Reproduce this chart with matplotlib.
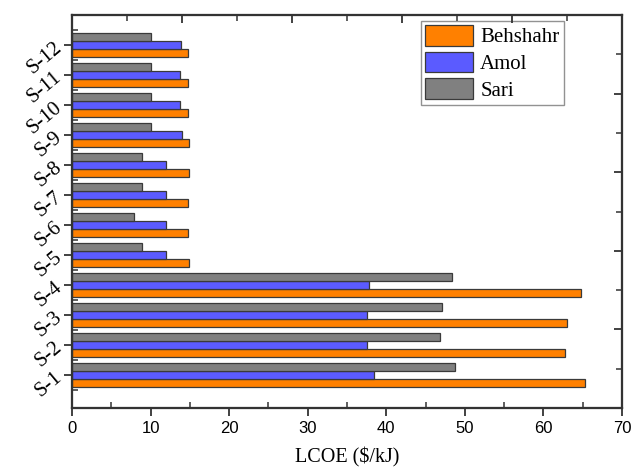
import matplotlib
matplotlib.use("Agg")
import matplotlib.pyplot as plt
import numpy as np
from matplotlib.ticker import MultipleLocator, FixedLocator

categories = ["S-1", "S-2", "S-3", "S-4", "S-5", "S-6", "S-7", "S-8", "S-9", "S-10", "S-11", "S-12"]
behshahr = [65.3, 62.8, 63.0, 64.8, 14.9, 14.8, 14.8, 14.9, 14.9, 14.8, 14.8, 14.8]
amol = [38.4, 37.5, 37.5, 37.8, 11.9, 11.9, 11.9, 11.9, 14.0, 13.8, 13.8, 13.9]
sari = [48.7, 46.9, 47.1, 48.4, 8.9, 7.9, 8.9, 8.9, 10.1, 10.0, 10.0, 10.1]
xticks = [0, 10, 20, 30, 40, 50, 60, 70]

serif = "Liberation Serif"
sans = "Liberation Sans"
plt.rcParams["font.family"] = sans

fig = plt.figure(figsize=(6.32, 4.68), dpi=100)
ax = fig.add_axes([0.114, 0.128, 0.870, 0.840])

y = np.arange(1, len(categories) + 1)
h = 0.27
ec = "#3a3a3a"
ax.barh(y - h, behshahr, height=h, color="#FF8000", edgecolor=ec, linewidth=0.9, label="Behshahr")
ax.barh(y, amol, height=h, color="#5B5BFF", edgecolor=ec, linewidth=0.9, label="Amol")
ax.barh(y + h, sari, height=h, color="#808080", edgecolor=ec, linewidth=0.9, label="Sari")

ax.set_xlim(0, 70)
ax.set_ylim(-0.1, 13)
ax.set_xticks(xticks, [str(t) for t in xticks], fontfamily=sans, fontsize=12)
ax.xaxis.set_minor_locator(MultipleLocator(5))
ax.set_yticks(y)
ax.set_yticklabels(categories, rotation=40, ha="right", va="center",
                   rotation_mode="anchor", fontfamily=serif, fontsize=15)
ax.yaxis.set_minor_locator(FixedLocator(np.arange(0.5, 13.01, 1.0)))

ax.tick_params(axis="both", which="major", direction="out", length=6, width=1.3, color="#333333")
ax.tick_params(axis="both", which="minor", direction="in", length=4, width=1.1, color="#333333")
ax.tick_params(axis="y", which="major", pad=3)

for s in ax.spines.values():
    s.set_linewidth(1.5)
    s.set_color("#333333")

# top and right mirrored axes with their own ticks
axt = ax.twiny()
axt.set_xlim(0, 5)
axt.xaxis.set_major_locator(MultipleLocator(1))
axt.xaxis.set_minor_locator(MultipleLocator(0.5))
axt.tick_params(axis="x", which="major", direction="in", length=6, width=1.3, labeltop=False, color="#333333")
axt.tick_params(axis="x", which="minor", direction="in", length=4, width=1.1, color="#333333")
axr = ax.twinx()
axr.set_ylim(0, 5)
axr.yaxis.set_major_locator(MultipleLocator(1))
axr.yaxis.set_minor_locator(MultipleLocator(0.5))
axr.tick_params(axis="y", which="major", direction="in", length=6, width=1.3, labelright=False, color="#333333")
axr.tick_params(axis="y", which="minor", direction="in", length=4, width=1.1, color="#333333")
for a in (axt, axr):
    for s in a.spines.values():
        s.set_linewidth(1.5)
        s.set_color("#333333")

ax.set_xlabel("LCOE ($/kJ)", fontfamily=serif, fontsize=14.5, labelpad=8)

leg = ax.legend(loc="upper right", bbox_to_anchor=(0.894, 0.985), borderaxespad=0,
                prop={"family": serif, "size": 15}, frameon=True, fancybox=False,
                handlelength=2.3, handleheight=1.15, handletextpad=0.35,
                labelspacing=0.2, borderpad=0.2)
leg.get_frame().set_edgecolor("#777777")
leg.get_frame().set_linewidth(1.0)

fig.savefig("out.png", dpi=100)
